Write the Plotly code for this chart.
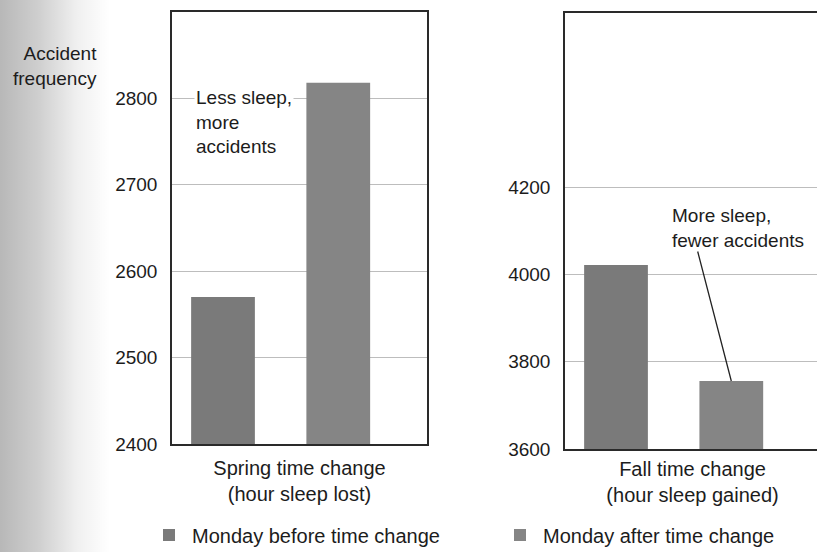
import base64
import plotly.graph_objects as go

# Accident counts on the Monday before / after the daylight-saving time change
periods = ["Spring time change<br>(hour sleep lost)", "Fall time change<br>(hour sleep gained)"]
series_names = ["Monday before time change", "Monday after time change"]
spring_values = [2570, 2818]   # before, after
fall_values = [4022, 3756]     # before, after

spring_ticks = [2400, 2500, 2600, 2700, 2800]
fall_ticks = [3600, 3800, 4000, 4200]

W, H = 817, 552
FONT = "Liberation Sans, Arial, Helvetica, sans-serif"
INK = "#1c1c1c"
bar_colors = ["#7a7a7a", "#858585"]
bar_offsets = [-0.425, 0.027]
bar_width = 0.25
legend_widths = [300, 245]

fig = go.Figure()

for i, name in enumerate(series_names):
    fig.add_trace(go.Bar(
        x=[periods[0]], y=[spring_values[i]], xaxis="x", yaxis="y",
        name=name, legendgroup=name, showlegend=True, legendwidth=legend_widths[i],
        marker=dict(color=bar_colors[i], line=dict(width=0)),
        offset=bar_offsets[i], width=bar_width,
    ))
    fig.add_trace(go.Bar(
        x=[periods[1]], y=[fall_values[i]], xaxis="x2", yaxis="y2",
        name=name, legendgroup=name, showlegend=False,
        marker=dict(color=bar_colors[i], line=dict(width=0)),
        offset=bar_offsets[i], width=bar_width,
    ))

def px_x(p):
    return p / W

def px_y(p):
    return 1 - p / H

axis_line = dict(showline=True, linecolor="#2a2a2a", linewidth=1.5)
grid = dict(showgrid=True, gridcolor="#bdbdbd", gridwidth=1)

# Soft page-binding shadow along the left edge (SVG gradient)
shadow_svg = (
    '<svg xmlns="http://www.w3.org/2000/svg" width="110" height="552" preserveAspectRatio="none">'
    '<defs><linearGradient id="g" x1="0" y1="0" x2="1" y2="0">'
    '<stop offset="0" stop-color="#000" stop-opacity="0.28"/>'
    '<stop offset="0.35" stop-color="#000" stop-opacity="0.19"/>'
    '<stop offset="0.7" stop-color="#000" stop-opacity="0.06"/>'
    '<stop offset="1" stop-color="#000" stop-opacity="0"/>'
    '</linearGradient></defs>'
    '<rect width="110" height="552" fill="url(#g)"/></svg>'
)
shadow_src = "data:image/svg+xml;base64," + base64.b64encode(shadow_svg.encode()).decode()

fig.update_layout(
    width=W, height=H, autosize=False,
    margin=dict(l=0, r=0, t=0, b=0, autoexpand=False),
    paper_bgcolor="white", plot_bgcolor="white",
    font=dict(family=FONT, size=19, color=INK),
    barmode="overlay",
    showlegend=True,
    legend=dict(
        orientation="h", x=px_x(146), xanchor="left", y=px_y(535), yanchor="middle",
        font=dict(size=20, color=INK), entrywidthmode="pixels", itemwidth=36,
        bgcolor="rgba(0,0,0,0)", traceorder="normal",
    ),
    xaxis=dict(
        domain=[px_x(172), px_x(427)], type="category", range=[-0.5, 0.5],
        mirror=True, ticks="", ticklabelstandoff=5, showgrid=False,
        tickfont=dict(size=20), fixedrange=True, **axis_line,
    ),
    yaxis=dict(
        domain=[px_y(444), px_y(12)], range=[2400, 2900], tickvals=spring_ticks,
        mirror=True, ticks="", ticklabelstandoff=9, zeroline=False,
        tickfont=dict(size=19), **axis_line, **grid,
    ),
    xaxis2=dict(
        domain=[px_x(565), 1.0], type="category", range=[-0.5, 0.488],
        mirror=True, ticks="", ticklabelstandoff=1, showgrid=False,
        tickfont=dict(size=20), anchor="y2", **axis_line,
    ),
    yaxis2=dict(
        domain=[px_y(449), px_y(13)], range=[3600, 4600], tickvals=fall_ticks,
        mirror=False, ticks="", ticklabelstandoff=9, zeroline=False,
        tickfont=dict(size=19), anchor="x2", **axis_line, **grid,
    ),
    images=[dict(
        source=shadow_src, xref="paper", yref="paper", x=0, y=1,
        sizex=px_x(110), sizey=1, sizing="stretch", xanchor="left", yanchor="top",
        layer="below",
    )],
    annotations=[
        dict(text="Accident<br>frequency", xref="paper", yref="paper",
             x=px_x(99), y=px_y(66), xanchor="right", yanchor="middle",
             align="right", showarrow=False, font=dict(size=19, color=INK)),
        dict(text="Less sleep,<br>more<br>accidents", xref="paper", yref="paper",
             x=px_x(194), y=px_y(85), xanchor="left", yanchor="top",
             align="left", showarrow=False, bgcolor="white",
             font=dict(size=19, color=INK)),
        dict(text="More sleep,<br>fewer accidents", xref="paper", yref="paper",
             x=px_x(670), y=px_y(203), xanchor="left", yanchor="top",
             align="left", showarrow=False, font=dict(size=19, color=INK)),
        dict(text="", xref="x2", yref="y2",
             x=bar_offsets[1] + bar_width / 2, y=fall_values[1],
             ax=-34, ay=-131, showarrow=True, arrowhead=0, arrowwidth=1.3,
             arrowcolor="#222", standoff=0),
    ],
)

fig.write_html("out.html")
